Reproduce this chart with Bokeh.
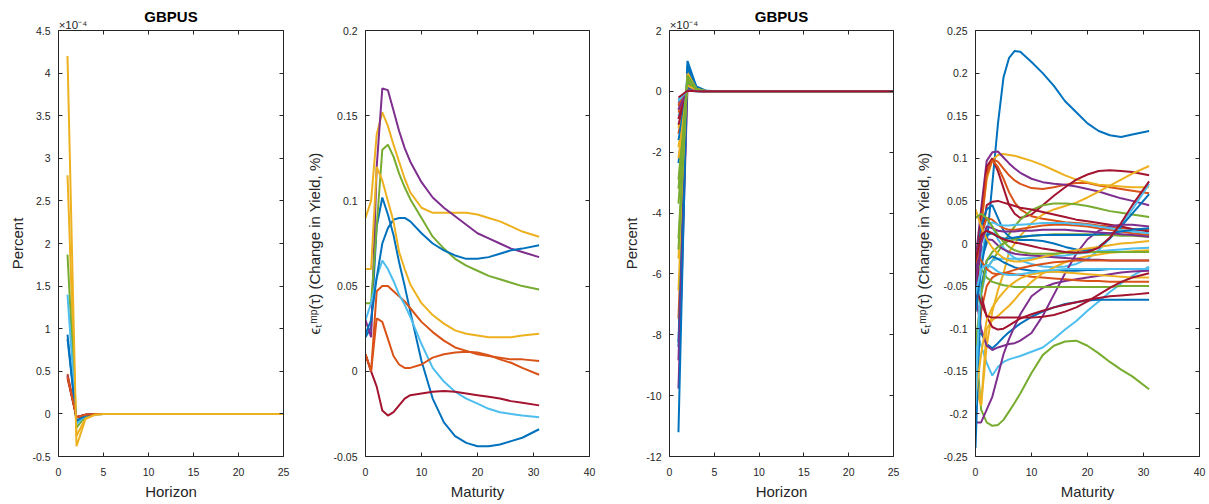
from bokeh.plotting import figure
from bokeh.layouts import row
from bokeh.models import Range1d, LinearAxis, FixedTicker, CustomJSTickFormatter
from bokeh.embed import file_html
from bokeh.resources import INLINE

# ---------------- data ----------------
COLORS = ["#0072BD", "#D95319", "#EDB120", "#7E2F8E", "#77AC30", "#4DBEEE", "#A2142F"]

HORIZON = list(range(1, 26))
MATURITY = [0, 1, 2, 3, 4, 5, 6, 7, 8, 10, 12, 14, 16, 18, 20, 22, 24, 26, 28, 31]

# Panel 1 (x10^-4): values at horizons 1..4, zero afterwards
P1_H1 = [0.93, 0.47, 2.80, 0.45, 1.87, 1.40, 0.42, 0.88, 0.44, 4.20]
P1_H2 = [-0.09, -0.04, -0.26, -0.04, -0.16, -0.12, -0.04, -0.08, -0.04, -0.38]
P1_H3 = [-0.02, -0.01, -0.05, -0.01, -0.03, -0.02, -0.01, -0.02, -0.01, -0.06]
P1_H4 = [-0.005, 0.0, -0.01, 0.0, -0.005, -0.005, 0.0, 0.0, 0.0, -0.01]

# Panel 2 (maturity curves)
P2_S01 = [0.020, 0.026, 0.085, 0.102, 0.092, 0.080, 0.064, 0.050, 0.035, 0.006, -0.016, -0.030, -0.038, -0.042, -0.044, -0.044, -0.043, -0.041, -0.039, -0.034]
P2_S02 = [0.010, 0.000, 0.047, 0.050, 0.050, 0.047, 0.044, 0.041, 0.037, 0.029, 0.023, 0.018, 0.014, 0.012, 0.010, 0.009, 0.008, 0.007, 0.007, 0.006]
P2_S03 = [0.090, 0.100, 0.139, 0.152, 0.144, 0.133, 0.123, 0.113, 0.105, 0.096, 0.093, 0.093, 0.093, 0.093, 0.092, 0.090, 0.088, 0.085, 0.082, 0.079]
P2_S04 = [0.030, 0.020, 0.120, 0.166, 0.165, 0.153, 0.141, 0.131, 0.123, 0.111, 0.102, 0.096, 0.091, 0.086, 0.081, 0.078, 0.075, 0.072, 0.070, 0.067]
P2_S05 = [0.040, 0.040, 0.085, 0.130, 0.133, 0.126, 0.116, 0.108, 0.101, 0.090, 0.079, 0.072, 0.066, 0.062, 0.059, 0.056, 0.054, 0.052, 0.050, 0.048]
P2_S06 = [0.030, 0.040, 0.055, 0.065, 0.060, 0.053, 0.045, 0.039, 0.032, 0.016, 0.002, -0.006, -0.012, -0.016, -0.019, -0.022, -0.024, -0.025, -0.026, -0.027]
P2_S07 = [0.010, 0.000, -0.009, -0.023, -0.026, -0.024, -0.020, -0.016, -0.014, -0.013, -0.012, -0.0115, -0.012, -0.013, -0.014, -0.015, -0.016, -0.0175, -0.0185, -0.020]
P2_S08 = [0.022, 0.030, 0.055, 0.075, 0.084, 0.089, 0.090, 0.090, 0.088, 0.081, 0.075, 0.071, 0.068, 0.066, 0.066, 0.067, 0.069, 0.071, 0.072, 0.074]
P2_S09 = [0.010, 0.000, 0.031, 0.029, 0.019, 0.009, 0.004, 0.002, 0.002, 0.004, 0.008, 0.010, 0.011, 0.0115, 0.011, 0.0095, 0.007, 0.005, 0.002, -0.002]
P2_S10 = [0.060, 0.060, 0.120, 0.112, 0.100, 0.088, 0.070, 0.060, 0.051, 0.040, 0.033, 0.028, 0.024, 0.022, 0.021, 0.020, 0.020, 0.020, 0.021, 0.022]

# Panel 3 (x10^-4): values at horizons 1..4, zero afterwards
P3_H1 = [-2.36, -1.39, -1.83, -0.90, -3.69, -0.46, -0.30, -8.24, -7.47, -6.54, -9.77, -4.84,
         -0.80, -0.60, -8.40, -0.70, -1.20, -8.84, -2.90, -0.35, -1.10, -11.20, -0.50, -5.50,
         -0.40, -5.20, -0.25, -0.90, -1.60, -0.45, -2.20, -0.60, -3.20, -0.30, -0.20]
P3_H2 = [0.20, 0.12, 0.15, 0.08, 0.30, 0.04, 0.03, 0.75, 0.55, 0.62, 0.10, 0.48,
         0.07, 0.05, 0.85, 0.06, 0.10, 0.25, 0.30, 0.03, 0.09, 1.00, 0.04, 0.58,
         0.03, 0.52, 0.02, 0.08, 0.14, 0.04, 0.20, 0.05, 0.40, 0.03, 0.02]
P3_H3 = [0.04, 0.02, 0.03, 0.02, 0.05, 0.01, 0.01, 0.12, 0.09, 0.10, 0.03, 0.08,
         0.01, 0.01, 0.13, 0.01, 0.02, 0.05, 0.05, 0.01, 0.02, 0.16, 0.01, 0.09,
         0.01, 0.08, 0.00, 0.01, 0.02, 0.01, 0.03, 0.01, 0.06, 0.00, 0.00]
P3_H4 = [0.005, 0.0, 0.005, 0.0, 0.005, 0.0, 0.0, 0.02, 0.015, 0.015, 0.005, 0.01,
         0.0, 0.0, 0.02, 0.0, 0.0, 0.01, 0.005, 0.0, 0.0, 0.03, 0.0, 0.01,
         0.0, 0.01, 0.0, 0.0, 0.0, 0.0, 0.005, 0.0, 0.01, 0.0, 0.0]

# Panel 4 (maturity curves)
P4_S01 = [-0.03, -0.02, 0.00, 0.07, 0.14, 0.195, 0.218, 0.226, 0.225, 0.213, 0.200, 0.185, 0.167, 0.154, 0.141, 0.132, 0.127, 0.125, 0.128, 0.132]
P4_S02 = [-0.05, 0.03, 0.085, 0.099, 0.096, 0.088, 0.080, 0.074, 0.070, 0.065, 0.064, 0.066, 0.069, 0.071, 0.071, 0.068, 0.066, 0.064, 0.062, 0.059]
P4_S03 = [-0.04, 0.02, 0.075, 0.098, 0.104, 0.105, 0.104, 0.103, 0.101, 0.097, 0.092, 0.086, 0.080, 0.075, 0.072, 0.069, 0.068, 0.067, 0.066, 0.066]
P4_S04 = [-0.02, 0.04, 0.097, 0.107, 0.108, 0.101, 0.094, 0.088, 0.083, 0.076, 0.072, 0.070, 0.069, 0.067, 0.064, 0.061, 0.057, 0.053, 0.050, 0.045]
P4_S05 = [-0.110, -0.195, -0.210, -0.214, -0.213, -0.207, -0.197, -0.187, -0.176, -0.152, -0.131, -0.120, -0.115, -0.114, -0.120, -0.129, -0.139, -0.148, -0.156, -0.171]
P4_S06 = [-0.10, -0.12, -0.14, -0.155, -0.145, -0.139, -0.136, -0.134, -0.132, -0.127, -0.122, -0.112, -0.101, -0.091, -0.079, -0.068, -0.057, -0.047, -0.038, -0.027]
P4_S07 = [-0.03, 0.03, 0.09, 0.100, 0.085, 0.065, 0.045, 0.035, 0.030, 0.034, 0.045, 0.056, 0.066, 0.075, 0.081, 0.085, 0.086, 0.085, 0.084, 0.080]
P4_S08 = [-0.110, -0.105, -0.118, -0.123, -0.117, -0.110, -0.104, -0.099, -0.094, -0.086, -0.080, -0.075, -0.071, -0.069, -0.067, -0.066, -0.066, -0.066, -0.066, -0.066]
P4_S09 = [-0.06, 0.02, 0.08, 0.098, 0.090, 0.076, 0.060, 0.048, 0.040, 0.032, 0.029, 0.027, 0.025, 0.024, 0.023, 0.021, 0.020, 0.018, 0.017, 0.016]
P4_S10 = [-0.17, -0.19, -0.12, -0.08, -0.055, -0.035, -0.010, 0.000, 0.009, 0.024, 0.034, 0.040, 0.044, 0.048, 0.054, 0.061, 0.068, 0.075, 0.082, 0.091]
P4_S11 = [-0.21, -0.21, -0.195, -0.180, -0.155, -0.130, -0.112, -0.097, -0.083, -0.062, -0.052, -0.047, -0.044, -0.042, -0.040, -0.038, -0.036, -0.034, -0.033, -0.032]
P4_S12 = [-0.08, -0.05, -0.03, -0.02, -0.01, 0.000, 0.011, 0.020, 0.028, 0.039, 0.045, 0.047, 0.047, 0.046, 0.044, 0.041, 0.038, 0.036, 0.034, 0.031]
P4_S13 = [-0.02, 0.01, 0.03, 0.02, 0.005, -0.005, -0.012, -0.017, -0.020, -0.024, -0.027, -0.028, -0.027, -0.024, -0.018, -0.008, 0.006, 0.022, 0.040, 0.070]
P4_S14 = [-0.07, 0.00, 0.045, 0.049, 0.050, 0.048, 0.046, 0.044, 0.042, 0.040, 0.037, 0.034, 0.031, 0.028, 0.026, 0.024, 0.022, 0.020, 0.017, 0.014]
P4_S15 = [-0.04, 0.02, 0.04, 0.045, 0.030, 0.015, 0.008, 0.005, 0.004, 0.004, 0.003, 0.000, -0.004, -0.007, -0.008, -0.004, 0.006, 0.020, 0.035, 0.058]
P4_S16 = [-0.16, -0.08, -0.05, -0.040, -0.036, -0.035, -0.035, -0.036, -0.037, -0.039, -0.040, -0.041, -0.042, -0.043, -0.044, -0.044, -0.045, -0.045, -0.045, -0.045]
P4_S17 = [-0.14, -0.19, -0.10, -0.090, -0.085, -0.079, -0.073, -0.066, -0.058, -0.045, -0.035, -0.028, -0.022, -0.018, -0.015, -0.013, -0.011, -0.010, -0.009, -0.008]
P4_S18 = [-0.06, -0.10, -0.12, -0.125, -0.122, -0.120, -0.118, -0.117, -0.114, -0.105, -0.085, -0.060, -0.035, -0.012, 0.005, 0.015, 0.020, 0.022, 0.022, 0.020]
P4_S19 = [-0.02, -0.03, -0.040, -0.045, -0.047, -0.049, -0.050, -0.051, -0.051, -0.051, -0.051, -0.051, -0.051, -0.051, -0.051, -0.051, -0.051, -0.050, -0.050, -0.050]
P4_S20 = [-0.15, -0.06, -0.03, -0.020, -0.018, -0.018, -0.018, -0.018, -0.018, -0.017, -0.016, -0.015, -0.014, -0.012, -0.011, -0.009, -0.008, -0.007, -0.006, -0.005]
P4_S21 = [-0.03, -0.06, -0.086, -0.098, -0.101, -0.100, -0.096, -0.092, -0.088, -0.083, -0.079, -0.075, -0.072, -0.069, -0.066, -0.064, -0.062, -0.061, -0.060, -0.058]
P4_S22 = [-0.24, -0.05, -0.02, -0.015, -0.018, -0.022, -0.025, -0.028, -0.030, -0.032, -0.033, -0.033, -0.032, -0.032, -0.031, -0.031, -0.030, -0.030, -0.030, -0.030]
P4_S23 = [-0.03, 0.01, 0.03, 0.028, 0.022, 0.018, 0.016, 0.016, 0.017, 0.019, 0.021, 0.022, 0.022, 0.021, 0.020, 0.018, 0.016, 0.014, 0.012, 0.010]
P4_S24 = [-0.18, -0.13, -0.09, -0.075, -0.065, -0.057, -0.050, -0.045, -0.041, -0.036, -0.034, -0.033, -0.034, -0.035, -0.036, -0.037, -0.038, -0.039, -0.040, -0.040]
P4_S25 = [-0.03, -0.01, 0.005, 0.004, -0.002, -0.007, -0.010, -0.012, -0.013, -0.014, -0.015, -0.016, -0.017, -0.018, -0.019, -0.019, -0.020, -0.020, -0.020, -0.020]
P4_S26 = [-0.12, -0.06, -0.02, -0.010, -0.004, 0.000, 0.003, 0.005, 0.007, 0.009, 0.010, 0.011, 0.011, 0.011, 0.011, 0.010, 0.010, 0.009, 0.009, 0.008]
P4_S27 = [-0.19, -0.02, 0.02, 0.025, 0.022, 0.021, 0.021, 0.022, 0.022, 0.023, 0.024, 0.024, 0.024, 0.023, 0.022, 0.020, 0.018, 0.016, 0.014, 0.012]
P4_S28 = [-0.05, -0.07, -0.085, -0.087, -0.087, -0.087, -0.087, -0.087, -0.087, -0.087, -0.086, -0.084, -0.080, -0.075, -0.068, -0.060, -0.052, -0.045, -0.040, -0.035]
P4_S29 = [-0.08, -0.03, 0.01, 0.012, 0.008, 0.006, 0.006, 0.007, 0.008, 0.009, 0.010, 0.010, 0.010, 0.010, 0.010, 0.011, 0.012, 0.014, 0.016, 0.018]
P4_S30 = [-0.01, -0.02, -0.03, -0.035, -0.036, -0.035, -0.033, -0.031, -0.029, -0.026, -0.024, -0.022, -0.021, -0.020, -0.020, -0.020, -0.020, -0.020, -0.020, -0.020]
P4_S31 = [0.04, 0.02, 0.005, -0.005, -0.012, -0.017, -0.020, -0.021, -0.021, -0.019, -0.016, -0.013, -0.010, -0.008, -0.006, -0.004, -0.002, 0.000, 0.001, 0.003]
P4_S32 = [-0.05, 0.00, 0.02, 0.018, 0.015, 0.014, 0.014, 0.014, 0.015, 0.015, 0.016, 0.016, 0.016, 0.015, 0.014, 0.013, 0.012, 0.011, 0.010, 0.008]
P4_S33 = [0.03, 0.035, 0.03, 0.02, 0.010, 0.002, -0.004, -0.008, -0.010, -0.012, -0.012, -0.012, -0.011, -0.011, -0.010, -0.010, -0.010, -0.010, -0.010, -0.010]
P4_S34 = [-0.06, -0.03, -0.025, -0.028, -0.033, -0.036, -0.037, -0.037, -0.036, -0.034, -0.032, -0.031, -0.030, -0.030, -0.030, -0.030, -0.030, -0.030, -0.030, -0.030]
P4_S35 = [-0.02, 0.01, 0.015, 0.012, 0.008, 0.005, 0.003, 0.001, 0.000, -0.003, -0.006, -0.008, -0.010, -0.011, -0.010, -0.005, 0.007, 0.024, 0.045, 0.073]

P2_SERIES = [P2_S01, P2_S02, P2_S03, P2_S04, P2_S05, P2_S06, P2_S07, P2_S08, P2_S09, P2_S10]
P4_SERIES = [P4_S01, P4_S02, P4_S03, P4_S04, P4_S05, P4_S06, P4_S07, P4_S08, P4_S09, P4_S10,
             P4_S11, P4_S12, P4_S13, P4_S14, P4_S15, P4_S16, P4_S17, P4_S18, P4_S19, P4_S20,
             P4_S21, P4_S22, P4_S23, P4_S24, P4_S25, P4_S26, P4_S27, P4_S28, P4_S29, P4_S30,
             P4_S31, P4_S32, P4_S33, P4_S34, P4_S35]

# ---------------- styling ----------------
FONT = "Liberation Sans"
AX = "#262626"
HEIGHT = 503
YLABEL_EPS = "ϵₜᵐᵖ(τ) (Change in Yield, %)"
EXPONENT = "\u00a0" * 9 + "×10⁻⁴"   # padded so the centred label starts at the axes' left edge
FMT_CODE = "return String(Math.round(tick * 10000) / 10000);"
BLANK_CODE = "return '';"


def style_axis(ax, ticks, show_labels, label_standoff=7, tick_standoff=8):
    ax.ticker = FixedTicker(ticks=ticks)
    ax.axis_line_color = AX
    ax.axis_line_width = 1
    ax.major_tick_line_color = AX
    ax.major_tick_line_width = 1
    ax.major_tick_in = 4
    ax.major_tick_out = 0
    ax.minor_tick_in = 0
    ax.minor_tick_out = 0
    ax.major_label_text_font = FONT
    ax.major_label_text_color = AX
    ax.axis_label_text_font = FONT
    ax.axis_label_text_font_size = "15px"
    ax.axis_label_text_font_style = "normal"
    ax.axis_label_text_color = AX
    if show_labels:
        ax.formatter = CustomJSTickFormatter(code=FMT_CODE)
        ax.major_label_text_font_size = "10.5px"
        ax.major_label_standoff = tick_standoff
        ax.axis_label_standoff = label_standoff
    else:
        ax.formatter = CustomJSTickFormatter(code=BLANK_CODE)
        ax.major_label_text_font_size = "1px"
        ax.major_label_standoff = 0
        ax.axis_label_standoff = 0


def make_panel(width, left, right, x_rng, y_rng, x_ticks, y_ticks, x_label, y_label,
               ylabel_standoff, title=None, exponent=None):
    p = figure(width=width, height=HEIGHT, output_backend="svg", toolbar_location=None,
               x_range=Range1d(*x_rng), y_range=Range1d(*y_rng),
               min_border_left=left, min_border_right=right,
               min_border_top=30, min_border_bottom=47)
    p.grid.visible = False
    p.outline_line_color = None
    p.background_fill_color = "white"
    p.border_fill_color = "white"
    bottom = p.below[0]
    leftax = p.left[0]
    style_axis(bottom, x_ticks, True, label_standoff=4, tick_standoff=11)
    style_axis(leftax, y_ticks, True, label_standoff=ylabel_standoff, tick_standoff=8)
    bottom.axis_label = x_label
    leftax.axis_label = y_label

    # mirrored top axis (ticks only); optionally carries the x10^-4 exponent marker
    top = LinearAxis()
    style_axis(top, x_ticks, False)
    if exponent is not None:
        top.axis_label = exponent
        top.axis_label_text_font_size = "11.5px"
        top.axis_label_standoff = 0
        top.axis_label_align = "start"
    p.add_layout(top, "above")

    # panel title, drawn as the label of an outer, empty axis
    if title is not None:
        ttl = LinearAxis(ticker=FixedTicker(ticks=[]),
                         formatter=CustomJSTickFormatter(code=BLANK_CODE))
        ttl.axis_line_color = None
        ttl.major_tick_in = 0
        ttl.major_tick_out = 0
        ttl.minor_tick_in = 0
        ttl.minor_tick_out = 0
        ttl.major_label_text_font_size = "1px"
        ttl.major_label_standoff = 0
        ttl.axis_label = title
        ttl.axis_label_text_font = FONT
        ttl.axis_label_text_font_size = "15px"
        ttl.axis_label_text_font_style = "bold"
        ttl.axis_label_text_color = "black"
        ttl.axis_label_standoff = -9
        p.add_layout(ttl, "above")

    rightax = LinearAxis()
    style_axis(rightax, y_ticks, False)
    p.add_layout(rightax, "right")
    return p


# ---------------- panel 1 ----------------
x1, y1 = (0, 25), (-0.5, 4.5)
p1 = make_panel(293, 58, 10, x1, y1, [0, 5, 10, 15, 20, 25],
                [-0.5, 0, 0.5, 1, 1.5, 2, 2.5, 3, 3.5, 4, 4.5], "Horizon", "Percent", 3,
                title="GBPUS", exponent=EXPONENT)
for i in range(len(P1_H1)):
    ys = [P1_H1[i], P1_H2[i], P1_H3[i], P1_H4[i]] + [0.0] * (len(HORIZON) - 4)
    p1.line(HORIZON, ys, line_color=COLORS[i % 7], line_width=2)

# ---------------- panel 2 ----------------
x2, y2 = (0, 40), (-0.05, 0.2)
p2 = make_panel(306, 72, 10, x2, y2, [0, 10, 20, 30, 40],
                [-0.05, 0, 0.05, 0.1, 0.15, 0.2], "Maturity", YLABEL_EPS, 8)
for i, s in enumerate(P2_SERIES):
    p2.line(MATURITY, s, line_color=COLORS[i % 7], line_width=2)

# ---------------- panel 3 ----------------
x3, y3 = (0, 25), (-12, 2)
p3 = make_panel(304, 70, 10, x3, y3, [0, 5, 10, 15, 20, 25],
                [-12, -10, -8, -6, -4, -2, 0, 2], "Horizon", "Percent", 3,
                title="GBPUS", exponent=EXPONENT)
for i in range(len(P3_H1)):
    ys = [P3_H1[i], P3_H2[i], P3_H3[i], P3_H4[i]] + [0.0] * (len(HORIZON) - 4)
    p3.line(HORIZON, ys, line_color=COLORS[i % 7], line_width=2)

# ---------------- panel 4 ----------------
x4, y4 = (0, 40), (-0.25, 0.25)
p4 = make_panel(304, 72, 8, x4, y4, [0, 10, 20, 30, 40],
                [-0.25, -0.2, -0.15, -0.1, -0.05, 0, 0.05, 0.1, 0.15, 0.2, 0.25],
                "Maturity", YLABEL_EPS, 9)
for i, s in enumerate(P4_SERIES):
    p4.line(MATURITY, s, line_color=COLORS[i % 7], line_width=2)

layout = row(p1, p2, p3, p4)
open("out.html", "w").write(file_html(layout, INLINE))
